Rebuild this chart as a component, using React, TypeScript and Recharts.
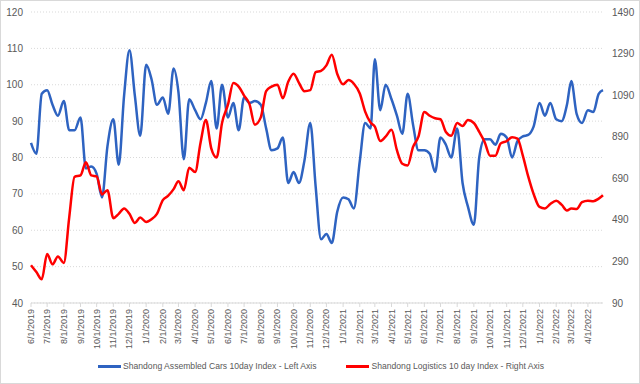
import { CartesianGrid, Line, LineChart, XAxis, YAxis } from "recharts";

// month-start tick labels on the date axis
const tickLabels = [
  "6/1/2019", "7/1/2019", "8/1/2019", "9/1/2019", "10/1/2019", "11/1/2019", "12/1/2019",
  "1/1/2020", "2/1/2020", "3/1/2020", "4/1/2020", "5/1/2020", "6/1/2020", "7/1/2020",
  "8/1/2020", "9/1/2020", "10/1/2020", "11/1/2020", "12/1/2020", "1/1/2021", "2/1/2021",
  "3/1/2021", "4/1/2021", "5/1/2021", "6/1/2021", "7/1/2021", "8/1/2021", "9/1/2021",
  "10/1/2021", "11/1/2021", "12/1/2021", "1/1/2022", "2/1/2022", "3/1/2022", "4/1/2022",
];
const readingDays = [1, 11, 21];
const lastDate = "4/29/2022";

const leftTicks = [40, 50, 60, 70, 80, 90, 100, 110, 120];
const rightTicks = [90, 290, 490, 690, 890, 1090, 1290, 1490];

// Shandong Assembled Cars 10day Index (left axis)
const assembledCars = [
  84, 81, 97.5, 98.5, 94.5, 91.5, 95.5, 87.5, 87.5, 91, 77, 77.5, 75.5, 69, 83, 90.5, 78, 97,
  109.5, 97, 86, 105.5, 101.5, 94.5, 96.5, 92, 104.5, 98, 79.5, 96, 93, 90.5, 95, 101, 88, 100,
  91, 95, 87.5, 96.5, 95, 95.5, 94.5, 88, 82, 82.5, 85.5, 73, 76, 73, 79, 89.5, 72, 57.5,
  59, 56.5, 65, 69, 68.5, 66, 79, 89.5, 88, 107, 93, 100, 96, 91.5, 86.5, 97.5, 89, 82,
  82, 81, 76, 85.5, 83.5, 80, 88, 73, 66.5, 61.5, 80, 85, 85, 83.5, 86.5, 85.5, 80, 84.5,
  85.8, 86.2, 88.5, 95, 91.5, 95, 90.5, 90, 94.5, 101, 92, 89.5, 93, 92.5, 97.5, 98.5,
];

// Shandong Logistics 10 day Index (right axis)
const logistics = [
  272, 239, 204, 326, 276, 314, 283, 501, 697, 704, 767, 704, 699, 612, 633, 498, 519, 545,
  519, 475, 501, 480, 493, 519, 585, 606, 638, 676, 633, 741, 720, 860, 970, 834, 790, 956,
  1044, 1149, 1131, 1088, 1047, 948, 983, 1109, 1131, 1140, 1075, 1154, 1193, 1149, 1109, 1114, 1201, 1207,
  1233, 1284, 1193, 1142, 1163, 1145, 1098, 1011, 958, 939, 869, 890, 923, 825, 760, 752, 841, 890,
  1009, 991, 979, 974, 913, 895, 956, 942, 970, 956, 913, 865, 799, 799, 858, 869, 888, 881,
  799, 699, 615, 552, 545, 566, 582, 563, 535, 545, 542, 575, 582, 580, 592, 608,
];

const toDay = (s: string) => {
  const [m, d, y] = s.split("/").map(Number);
  return Date.UTC(y, m - 1, d) / 86400000;
};

const fmtDay = (t: number) => {
  const d = new Date(t * 86400000);
  return `${d.getUTCMonth() + 1}/${d.getUTCDate()}/${d.getUTCFullYear()}`;
};

const dates = tickLabels
  .flatMap((lbl) => {
    const [m, , y] = lbl.split("/");
    return readingDays.map((d) => `${m}/${d}/${y}`);
  })
  .concat(lastDate);

const data = dates.map((d, i) => ({
  t: toDay(d),
  cars: assembledCars[i],
  logistics: logistics[i],
}));

const monthTicks = tickLabels.map(toDay);

const BLUE = "#2e63c1";
const RED = "#ff0000";
const TEXT = "#595959";
const GRID = "#d9d9d9";
const FONT = "'Liberation Sans', Arial, sans-serif";

function DateTick(props: any) {
  const { x, y, payload } = props;
  return (
    <text
      x={x}
      y={y}
      dy={3}
      transform={`rotate(-90, ${x}, ${y})`}
      textAnchor="end"
      fill={TEXT}
      fontSize={9}
      fontFamily={FONT}
    >
      {fmtDay(payload.value)}
    </text>
  );
}

function LegendItem({ color, label }: { color: string; label: string }) {
  return (
    <div style={{ display: "flex", alignItems: "center" }}>
      <span style={{ width: 23, height: 3, background: color, display: "inline-block" }} />
      <span style={{ marginLeft: 2 }}>{label}</span>
    </div>
  );
}

export default function App() {
  return (
    <div
      style={{
        position: "absolute",
        left: 0,
        top: 0,
        width: 640,
        height: 384,
        boxSizing: "border-box",
        border: `1px solid ${GRID}`,
        background: "#fff",
        fontFamily: FONT,
      }}
    >
      <style>{"body{margin:0}"}</style>
      <LineChart
        width={638}
        height={382}
        data={data}
        margin={{ top: 11, right: 0, bottom: 0, left: 0 }}
        style={{ position: "absolute", left: 0, top: 0 }}
      >
        <CartesianGrid yAxisId="left" vertical={false} stroke={GRID} strokeDasharray="1 2" />
        <XAxis
          dataKey="t"
          type="number"
          domain={["dataMin", "dataMax"]}
          ticks={monthTicks}
          interval={0}
          height={80}
          tick={<DateTick />}
          tickSize={4}
          tickMargin={2}
          stroke={GRID}
        />
        <YAxis
          yAxisId="left"
          domain={[40, 120]}
          ticks={leftTicks}
          width={30}
          axisLine={false}
          tickLine={false}
          tickSize={0}
          tickMargin={8}
          tick={{ fill: TEXT, fontSize: 10 }}
        />
        <YAxis
          yAxisId="right"
          orientation="right"
          domain={[90, 1490]}
          ticks={rightTicks}
          width={36}
          axisLine={false}
          tickLine={false}
          tickSize={0}
          tickMargin={9}
          tick={{ fill: TEXT, fontSize: 10 }}
        />
        <Line
          yAxisId="left"
          dataKey="cars"
          type="monotone"
          stroke={BLUE}
          strokeWidth={2.5}
          dot={false}
          isAnimationActive={false}
        />
        <Line
          yAxisId="right"
          dataKey="logistics"
          type="monotone"
          stroke={RED}
          strokeWidth={2.5}
          dot={false}
          isAnimationActive={false}
        />
      </LineChart>
      <div
        style={{
          position: "absolute",
          top: 360,
          left: 97,
          display: "flex",
          gap: 30,
          fontSize: 8.6,
          color: TEXT,
          whiteSpace: "nowrap",
        }}
      >
        <LegendItem color={BLUE} label="Shandong Assembled Cars 10day Index - Left Axis" />
        <LegendItem color={RED} label="Shandong Logistics 10 day Index - Right Axis" />
      </div>
    </div>
  );
}
